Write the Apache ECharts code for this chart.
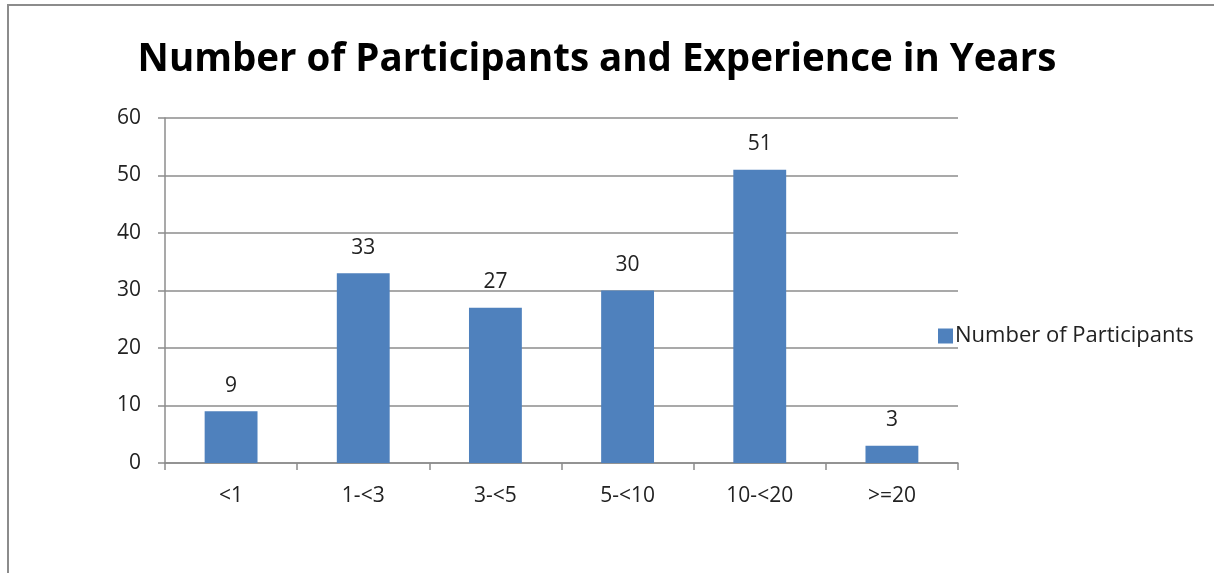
<!DOCTYPE html>
<html>
<head>
<meta charset="utf-8">
<style>
  html, body { margin: 0; padding: 0; background: #fff; }
  #frame { position: absolute; left: 7px; top: 4px; width: 1207px; height: 569px;
           border-top: 2px solid #8c8c8c; border-left: 2px solid #8c8c8c; box-sizing: border-box; }
  #chart { position: absolute; left: 0; top: 0; width: 1214px; height: 573px; }
</style>
<script src="https://cdn.jsdelivr.net/npm/echarts@6/dist/echarts.min.js"></script>
</head>
<body>
<div id="frame"></div>
<div id="chart"></div>
<script>
// Experience bands and participant counts
const categories = ['<1', '1-<3', '3-<5', '5-<10', '10-<20', '>=20'];
const participants = [9, 33, 27, 30, 51, 3];
const yTicks = [0, 10, 20, 30, 40, 50, 60];

const font = 'Open Sans, Noto Sans, sans-serif';
const chart = echarts.init(document.getElementById('chart'), null, { renderer: 'canvas' });

chart.setOption({
  animation: false,
  title: {
    text: 'Number of Participants and Experience in Years',
    left: 592, top: 36, textAlign: 'center',
    textStyle: { fontFamily: font, fontWeight: 'bold', fontSize: 38.5, color: '#000' }
  },
  legend: {
    data: ['Number of Participants'],
    left: 933, top: 320,
    icon: 'rect', itemWidth: 15, itemHeight: 15, itemGap: 5,
    textStyle: { fontFamily: font, fontSize: 22, color: '#222', padding: [0, 0, 0, -3] }
  },
  grid: { left: 165, right: 256, top: 118, bottom: 110 },
  xAxis: {
    type: 'category',
    data: categories,
    axisLine: { lineStyle: { color: '#8c8c8c', width: 1.5 } },
    axisTick: { show: true, length: 7, lineStyle: { color: '#8c8c8c', width: 1.5 } },
    axisLabel: { fontFamily: font, fontSize: 21, color: '#222', margin: 23 }
  },
  yAxis: {
    type: 'value',
    min: yTicks[0], max: yTicks[yTicks.length - 1], interval: 10,
    axisLine: { show: true, lineStyle: { color: '#8c8c8c', width: 1.5 } },
    axisTick: { show: true, length: 7, lineStyle: { color: '#8c8c8c', width: 1.5 } },
    axisLabel: { fontFamily: font, fontSize: 21, color: '#222', margin: 24 },
    splitLine: { lineStyle: { color: '#8c8c8c', width: 1.5 } }
  },
  series: [{
    name: 'Number of Participants',
    type: 'bar',
    data: participants,
    barCategoryGap: '60%',
    itemStyle: { color: '#4f81bd' },
    label: {
      show: true, position: 'top', distance: 15,
      fontFamily: font, fontSize: 21, color: '#222'
    }
  }]
});
</script>
</body>
</html>
